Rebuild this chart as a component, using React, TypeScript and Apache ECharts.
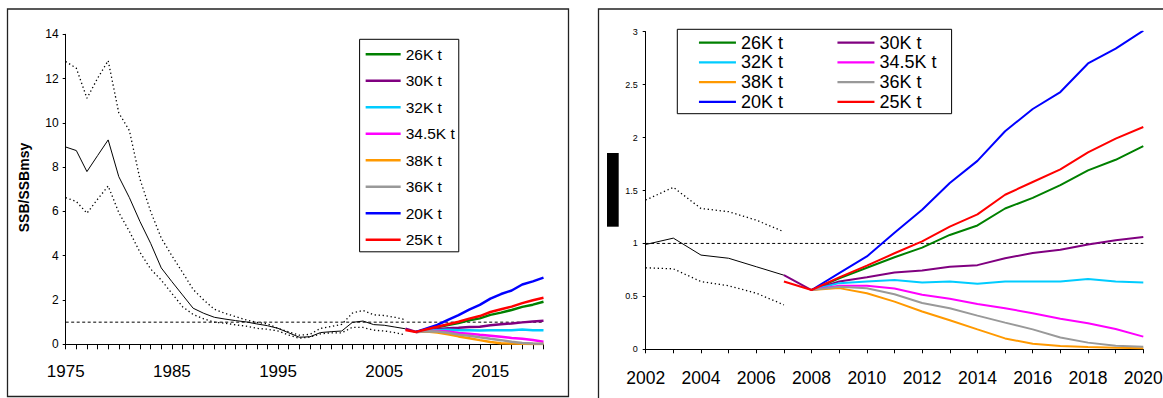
import React, { useEffect, useRef } from 'react';
import * as echarts from 'echarts';

// ---------- data ----------
const HIST_YEARS = [
  1975, 1976, 1977, 1978, 1979, 1980, 1981, 1982, 1983, 1984, 1985, 1986, 1987, 1988, 1989, 1990, 1991,
  1992, 1993, 1994, 1995, 1996, 1997, 1998, 1999, 2000, 2001, 2002, 2003, 2004, 2005, 2006, 2007,
];
const SSB = [
  8.91, 8.75, 7.8, 8.52, 9.23, 7.57, 6.62, 5.54, 4.56, 3.45, 2.83, 2.23, 1.63, 1.4, 1.22, 1.14, 1.07,
  1.01, 0.92, 0.84, 0.72, 0.52, 0.32, 0.34, 0.53, 0.57, 0.6, 0.99, 1.05, 0.89, 0.86, 0.78, 0.7,
];
const SSB_UPPER = [
  12.77, 12.47, 11.11, 12.01, 12.81, 10.45, 9.65, 7.45, 6.0, 4.8, 4.0, 3.25, 2.48, 2.0, 1.58, 1.4, 1.25,
  1.1, 0.99, 0.92, 0.72, 0.56, 0.41, 0.45, 0.72, 0.8, 0.9, 1.41, 1.53, 1.33, 1.3, 1.22, 1.11,
];
const SSB_LOWER = [
  6.62, 6.45, 5.92, 6.55, 7.15, 5.95, 5.1, 4.15, 3.4, 2.9, 2.3, 1.7, 1.35, 1.15, 1.0, 0.95, 0.88,
  0.82, 0.72, 0.68, 0.6, 0.42, 0.27, 0.33, 0.47, 0.52, 0.52, 0.77, 0.76, 0.64, 0.6, 0.53, 0.42,
];

const PROJ_YEARS = [2007, 2008, 2009, 2010, 2011, 2012, 2013, 2014, 2015, 2016, 2017, 2018, 2019, 2020];
const P26 = [null, 0.56, 0.67, 0.77, 0.87, 0.96, 1.08, 1.17, 1.33, 1.43, 1.55, 1.69, 1.79, 1.92];
const P30 = [0.7, 0.56, 0.64, 0.68, 0.725, 0.745, 0.78, 0.795, 0.86, 0.91, 0.94, 0.99, 1.03, 1.06];
const P32 = [null, 0.56, 0.625, 0.64, 0.655, 0.63, 0.64, 0.62, 0.64, 0.64, 0.64, 0.665, 0.64, 0.63];
const P345 = [null, 0.56, 0.6, 0.6, 0.575, 0.515, 0.477, 0.428, 0.388, 0.34, 0.288, 0.246, 0.192, 0.12];
const P38 = [null, 0.56, 0.578, 0.53, 0.45, 0.357, 0.275, 0.188, 0.103, 0.052, 0.032, 0.022, 0.014, 0.01];
const P36 = [null, 0.56, 0.59, 0.576, 0.52, 0.437, 0.388, 0.318, 0.252, 0.188, 0.112, 0.063, 0.033, 0.025];
const P20 = [null, 0.56, 0.72, 0.877, 1.1, 1.318, 1.57, 1.78, 2.06, 2.27, 2.43, 2.7, 2.84, 3.01];
const P25 = [0.64, 0.56, 0.68, 0.79, 0.907, 1.02, 1.158, 1.275, 1.46, 1.58, 1.7, 1.86, 1.99, 2.1];

const SCENARIO_NAMES = ['26K t', '30K t', '32K t', '34.5K t', '38K t', '36K t', '20K t', '25K t'];
const SCENARIO_VALUES = [P26, P30, P32, P345, P38, P36, P20, P25];

const REF_LEVEL = 1;
const LEFT_YEAR_RANGE = [1975, 2020];
const RIGHT_YEAR_RANGE = [2002, 2020];
const LEFT_X_LABELS = [1975, 1985, 1995, 2005, 2015];
const RIGHT_X_LABELS = [2002, 2004, 2006, 2008, 2010, 2012, 2014, 2016, 2018, 2020];
const Y_LABEL = 'SSB/SSBmsy';

// ---------- styles ----------
const SCENARIO_COLORS: Record<string, string> = {
  '26K t': '#008000',
  '30K t': '#800080',
  '32K t': '#00CCFF',
  '34.5K t': '#FF00FF',
  '38K t': '#FF9900',
  '36K t': '#999999',
  '20K t': '#0000FF',
  '25K t': '#FF0000',
};
const FONT = '"Liberation Sans", Arial, sans-serif';

function pairs(years: number[], vals: (number | null)[], from = -Infinity) {
  const out: [number, number][] = [];
  years.forEach((y, i) => {
    const v = vals[i];
    if (v !== null && v !== undefined && y >= from) out.push([y, v]);
  });
  return out;
}

export default function App() {
  const ref = useRef<HTMLDivElement>(null);
  useEffect(() => {
    if (!ref.current) return;
    const chart = echarts.init(ref.current, null, { renderer: 'svg' });

    const axisBase = {
      axisLine: { show: true, lineStyle: { color: '#000', width: 1 } },
      axisTick: { show: true, inside: false, lineStyle: { color: '#000', width: 1 } },
      splitLine: { show: false },
    };

    const series: any[] = [];
    const panels = [
      { idx: 0, from: LEFT_YEAR_RANGE[0], range: LEFT_YEAR_RANGE, projWidth: 2.5 },
      { idx: 1, from: RIGHT_YEAR_RANGE[0], range: RIGHT_YEAR_RANGE, projWidth: 2 },
    ];
    panels.forEach((p) => {
      const common = { type: 'line', xAxisIndex: p.idx, yAxisIndex: p.idx, symbol: 'none', silent: true };
      series.push({
        ...common,
        name: 'ref' + p.idx,
        data: p.range.map((y) => [y, REF_LEVEL]),
        lineStyle: { color: '#000', width: 1, type: [3, 2.5] },
        z: 1,
      });
      series.push({
        ...common,
        name: 'upper' + p.idx,
        data: pairs(HIST_YEARS, SSB_UPPER, p.from),
        lineStyle: { color: '#000', width: 1.3, type: [1.3, 2.7] },
        z: 1,
      });
      series.push({
        ...common,
        name: 'lower' + p.idx,
        data: pairs(HIST_YEARS, SSB_LOWER, p.from),
        lineStyle: { color: '#000', width: 1.3, type: [1.3, 2.7] },
        z: 1,
      });
      series.push({
        ...common,
        name: 'ssb' + p.idx,
        data: pairs(HIST_YEARS, SSB, p.from),
        lineStyle: { color: '#000', width: 1 },
        z: 1,
      });
      SCENARIO_NAMES.forEach((n, k) => {
        series.push({
          ...common,
          name: n,
          data: pairs(PROJ_YEARS, SCENARIO_VALUES[k]),
          lineStyle: { color: SCENARIO_COLORS[n], width: p.projWidth },
          itemStyle: { color: SCENARIO_COLORS[n] },
          z: 2,
        });
      });
    });

    const legendText = (size: number, lh: number) => ({
      fontFamily: FONT,
      fontSize: size,
      lineHeight: lh,
      color: '#000',
    });

    chart.setOption({
      animation: false,
      backgroundColor: '#fff',
      grid: [
        { left: 65.7, top: 34.3, width: 477.8, height: 310, outerBoundsMode: 'none', containLabel: false },
        { left: 645.7, top: 31.7, width: 497.6, height: 317.6, outerBoundsMode: 'none', containLabel: false },
      ],
      xAxis: [
        {
          ...axisBase,
          type: 'value',
          gridIndex: 0,
          min: LEFT_YEAR_RANGE[0],
          max: LEFT_YEAR_RANGE[1],
          interval: 1,
          axisTick: { ...axisBase.axisTick, length: 5 },
          axisLabel: {
            margin: 18.5,
            fontSize: 17,
            fontFamily: FONT,
            color: '#000',
            formatter: (v: number) => (LEFT_X_LABELS.includes(v) ? String(v) : ''),
          },
        },
        {
          ...axisBase,
          type: 'value',
          gridIndex: 1,
          min: RIGHT_YEAR_RANGE[0],
          max: RIGHT_YEAR_RANGE[1],
          interval: 1,
          axisTick: { ...axisBase.axisTick, length: 4 },
          axisLabel: {
            margin: 19.5,
            fontSize: 17.5,
            fontFamily: FONT,
            color: '#000',
            formatter: (v: number) => (RIGHT_X_LABELS.includes(v) ? String(v) : ''),
          },
        },
      ],
      yAxis: [
        {
          ...axisBase,
          type: 'value',
          gridIndex: 0,
          min: 0,
          max: 14,
          interval: 2,
          axisTick: { ...axisBase.axisTick, length: 3 },
          axisLabel: { margin: 7, fontSize: 12, fontFamily: FONT, color: '#000' },
        },
        {
          ...axisBase,
          type: 'value',
          gridIndex: 1,
          min: 0,
          max: 3,
          interval: 0.5,
          axisTick: { ...axisBase.axisTick, length: 3 },
          axisLabel: { margin: 8, fontSize: 9, fontFamily: FONT, color: '#000' },
        },
      ],
      legend: [
        {
          orient: 'vertical',
          left: 359.6,
          top: 39.3,
          padding: [7, 4, 4, 4.8],
          itemWidth: 35,
          itemHeight: 14,
          itemGap: 10.5,
          borderColor: '#000',
          borderWidth: 1,
          backgroundColor: '#fff',
          selectedMode: false,
          itemStyle: { opacity: 0 },
          lineStyle: { width: 2.5 },
          textStyle: legendText(15.5, 14),
          data: SCENARIO_NAMES,
        },
        {
          orient: 'vertical',
          left: 697.8,
          top: 33.7,
          padding: 0,
          itemWidth: 37,
          itemHeight: 18,
          itemGap: 1.7,
          selectedMode: false,
          itemStyle: { opacity: 0 },
          lineStyle: { width: 2.3 },
          textStyle: legendText(18, 18),
          data: SCENARIO_NAMES.filter((_, i) => i % 2 === 0),
          z: 5,
        },
        {
          orient: 'vertical',
          left: 836.3,
          top: 33.7,
          padding: 0,
          itemWidth: 37,
          itemHeight: 18,
          itemGap: 1.7,
          selectedMode: false,
          itemStyle: { opacity: 0 },
          lineStyle: { width: 2.3 },
          textStyle: legendText(18, 18),
          data: SCENARIO_NAMES.filter((_, i) => i % 2 === 1),
          z: 5,
        },
      ],
      graphic: [
        {
          type: 'rect',
          shape: { x: 7.5, y: 9, width: 561, height: 387.5 },
          style: { fill: 'none', stroke: '#222', lineWidth: 1.3 },
          z: 0,
          silent: true,
        },
        {
          type: 'rect',
          shape: { x: 598.5, y: 9, width: 700, height: 500 },
          style: { fill: 'none', stroke: '#222', lineWidth: 1.3 },
          z: 0,
          silent: true,
        },
        {
          type: 'rect',
          shape: { x: 677.3, y: 29.3, width: 274.3, height: 84.4 },
          style: { fill: '#fff', stroke: '#000', lineWidth: 1 },
          z: 3,
          silent: true,
        },
        {
          type: 'rect',
          shape: { x: 607, y: 153, width: 11.7, height: 73.7 },
          style: { fill: '#000' },
          z: 10,
          silent: true,
        },
        {
          type: 'text',
          x: 24,
          y: 187.5,
          rotation: Math.PI / 2,
          style: {
            text: Y_LABEL,
            font: 'bold 14px "Liberation Sans", Arial, sans-serif',
            fill: '#000',
            align: 'center',
            verticalAlign: 'middle',
          },
          z: 10,
          silent: true,
        },
      ],
      series,
    });

    return () => chart.dispose();
  }, []);

  return (
    <div
      ref={ref}
      style={{ position: 'absolute', left: 0, top: 0, width: 1163, height: 398 }}
    />
  );
}
